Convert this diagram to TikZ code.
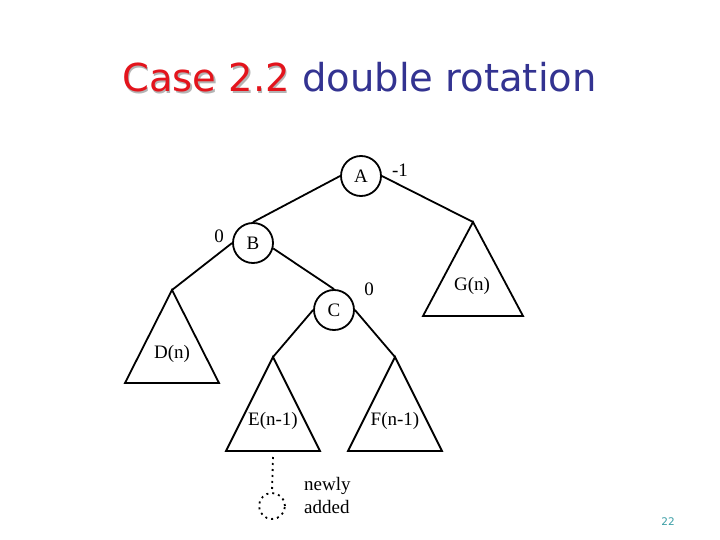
\documentclass[tikz,border=0pt]{standalone}
\usepackage{fontspec}
\setmainfont{Liberation Serif}
\newfontfamily\titlefont{DejaVu Sans}
\usetikzlibrary{positioning}
\definecolor{CaseRed}{HTML}{E3141C}
\definecolor{CaseShadow}{HTML}{B4B4B4}
\definecolor{CaseBlue}{HTML}{333391}
\definecolor{CaseTeal}{HTML}{3A9EA5}

\begin{document}
\begin{tikzpicture}[x=1pt,y=-1pt,
    edge/.style={line width=1.8pt},
    knot/.style={circle,draw,line width=1.8pt,minimum size=40pt,inner sep=0pt,
      font=\fontsize{19}{19}\selectfont},
    lbl/.style={inner sep=0pt,font=\fontsize{19}{23}\selectfont},
    newleaf/.style={line width=1.8pt,dash pattern=on 2pt off 4pt}]
  \useasboundingbox[fill=white] (0,0) rectangle (720,540);

  % title
  \node[anchor=base west,inner sep=0pt,text=CaseShadow,font=\titlefont\fontsize{38.5}{40}\selectfont]
    (titleshadow) at (123.5,93.5) {Case 2.2};
  \node[anchor=base west,inner sep=0pt,text=CaseRed,font=\titlefont\fontsize{38.5}{40}\selectfont]
    (title) at (122,92) {Case 2.2};
  \node[anchor=base west,inner sep=0pt,text=CaseBlue,font=\titlefont\fontsize{38.5}{40}\selectfont]
    (subtitle) at (302,92) {double rotation};

  % tree
  \node[knot] (a) at (361,176) {A};
  \node[knot] (b) at (253,243) {B};
  \node[knot] (c) at (334,310) {C};
  \node[lbl] (ba) at (400,170) {-1};
  \node[lbl] (bb) at (219,236) {0};
  \node[lbl] (bc) at (369,289) {0};

  \coordinate (dtop) at (172,290);
  \coordinate (etop) at (273,357);
  \coordinate (ftop) at (395,357);
  \coordinate (gtop) at (473,222);

  \draw[edge] (a.west) -- (b.north);
  \draw[edge] (a.east) -- (gtop);
  \draw[edge] (b.west) -- (dtop);
  \draw[edge] (b.-15) -- (c.north);
  \draw[edge] (c.west) -- (etop);
  \draw[edge] (c.east) -- (ftop);

  \draw[edge,line join=miter] (dtop) -- ++(-47,93) -- ++(94,0) -- cycle;
  \draw[edge,line join=miter] (etop) -- ++(-47,94) -- ++(94,0) -- cycle;
  \draw[edge,line join=miter] (ftop) -- ++(-47,94) -- ++(94,0) -- cycle;
  \draw[edge,line join=miter] (gtop) -- ++(-50,94) -- ++(100,0) -- cycle;

  \node[lbl] (d) at (172,354) {D(n)};
  \node[lbl] (e) at (273,421) {E(n-1)};
  \node[lbl] (f) at (395,421) {F(n-1)};
  \node[lbl] (g) at (472,286) {G(n)};

  % new leaf
  \coordinate (ebase) at (273,457);
  \node[circle,draw,newleaf,minimum size=26pt,inner sep=0pt] (n) at (272,506) {};
  \draw[newleaf] (ebase) -- (n.north);
  \node[lbl,align=left,anchor=west] (na) at (304,495) {newly\\added};

  \node[inner sep=0pt,text=CaseTeal,font=\titlefont\fontsize{10.5}{12}\selectfont] (pg) at (668,522) {22};
\end{tikzpicture}
\end{document}
